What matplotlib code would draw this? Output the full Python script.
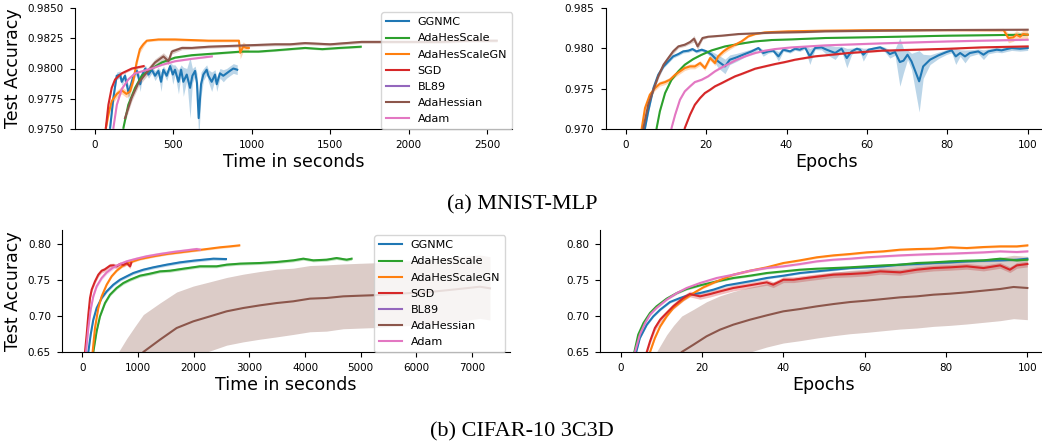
import numpy as np
import matplotlib.pyplot as plt
from matplotlib.ticker import MultipleLocator, FormatStrFormatter

methods = ['GGNMC', 'AdaHesScale', 'AdaHesScaleGN', 'SGD', 'BL89', 'AdaHessian', 'Adam']
colors = ['tab:blue', 'tab:green', 'tab:orange', 'tab:red', 'tab:purple', 'tab:brown', 'tab:pink']

# ---------------- MNIST-MLP, accuracy vs wall-clock time ----------------
mt_ggnmc_x = [96, 117, 138, 160, 170, 191, 202, 213, 223, 245, 267, 288, 298, 320, 341, 362, 383, 404,
              421, 436, 457, 479, 496, 510, 532, 549, 563, 585, 606, 621, 638, 650, 661, 676, 691, 712,
              723, 744, 765, 776, 797, 818, 839, 860, 882, 907]
mt_ggnmc_y = [0.9751, 0.9776, 0.9794, 0.9795, 0.9789, 0.9794, 0.9787, 0.9780, 0.9784, 0.9794, 0.9798,
              0.9787, 0.9794, 0.9800, 0.9795, 0.9799, 0.9794, 0.9798, 0.9789, 0.9799, 0.9794, 0.9802,
              0.9795, 0.9799, 0.9789, 0.9799, 0.9789, 0.9795, 0.9784, 0.9794, 0.9798, 0.9788, 0.9759,
              0.9787, 0.9795, 0.9799, 0.9794, 0.9789, 0.9795, 0.9787, 0.9796, 0.9794, 0.9796, 0.9798,
              0.9800, 0.9799]
mt_ggnmc_sd = [0.0003, 0.0003, 0.0003, 0.0003, 0.0003, 0.0003, 0.0004, 0.0006, 0.0004, 0.0003, 0.0003,
               0.0006, 0.0003, 0.0003, 0.0003, 0.0003, 0.0004, 0.0003, 0.0008, 0.0003, 0.0004, 0.0003,
               0.0008, 0.0004, 0.0010, 0.0004, 0.0012, 0.0005, 0.0025, 0.0006, 0.0004, 0.0008, 0.0018,
               0.0010, 0.0005, 0.0004, 0.0005, 0.0008, 0.0004, 0.0006, 0.0004, 0.0005, 0.0004, 0.0004,
               0.0004, 0.0004]
mt_ahs_x = [181, 212, 255, 298, 362, 426, 510, 617, 723, 830, 936, 1043, 1149, 1244, 1340, 1450, 1560, 1695]
mt_ahs_y = [0.9751, 0.9770, 0.9784, 0.9794, 0.9800, 0.9805, 0.9809, 0.9811, 0.9812, 0.9813, 0.9814,
            0.9814, 0.9815, 0.9816, 0.9817, 0.9816, 0.9817, 0.9818]
mt_ahs_sd = 0.00008
mt_ahsgn_x = [69, 85, 106, 139, 170, 200, 223, 244, 265, 286, 308, 330, 404, 510, 722, 918, 926, 945,
              966, 981]
mt_ahsgn_y = [0.9751, 0.9762, 0.9773, 0.9779, 0.9782, 0.9779, 0.9781, 0.9790, 0.9805, 0.9816, 0.9820,
              0.9823, 0.9824, 0.9824, 0.9823, 0.9823, 0.9813, 0.9818, 0.9817, 0.9817]
mt_ahsgn_sd = [0.0003, 0.0003, 0.0003, 0.0003, 0.0003, 0.0003, 0.0003, 0.0003, 0.0003, 0.0003, 0.0002,
               0.0001, 0.0001, 0.0001, 0.0001, 0.0001, 0.0005, 0.0004, 0.0003, 0.0003]
mt_sgd_x = [69, 85, 106, 128, 170, 235, 310]
mt_sgd_y = [0.9751, 0.9770, 0.9784, 0.9791, 0.9796, 0.9800, 0.9802]
mt_sgd_sd = 0.0001
mt_bl89_x = []
mt_bl89_y = []
mt_adahessian_x = [191, 234, 276, 319, 383, 436, 468, 490, 554, 617, 723, 936, 1149, 1244, 1340, 1500,
                   1700, 1883, 2200, 2400, 2563]
mt_adahessian_y = [0.9759, 0.9776, 0.9788, 0.9795, 0.9805, 0.9810, 0.9806, 0.9814, 0.9817, 0.9817,
                   0.9818, 0.9819, 0.9820, 0.9820, 0.9821, 0.9820, 0.9822, 0.9822, 0.9822, 0.9823, 0.9823]
mt_adahessian_sd = [0.0003, 0.0003, 0.0003, 0.0003, 0.0003, 0.0003, 0.0003, 0.0002, 0.00015, 0.00012,
                    0.00012, 0.00012, 0.00012, 0.00012, 0.00012, 0.00012, 0.00012, 0.00012, 0.00012,
                    0.00012, 0.00012]
mt_adam_x = [117, 139, 170, 212, 255, 362, 426, 510, 617, 745]
mt_adam_y = [0.9751, 0.9770, 0.9783, 0.9791, 0.9796, 0.9800, 0.9803, 0.9806, 0.9808, 0.9810]
mt_adam_sd = 0.00006

# ---------------- MNIST-MLP, accuracy vs epochs ----------------
me_ggnmc_x = [4.8, 5.6, 6.9, 8.1, 9.4, 10.6, 11.8, 13.1, 14.3, 15.6, 16.6, 17.6, 18.9, 20.1, 21.4, 23.0,
              24.7, 25.9, 27.6, 29.2, 31.3, 33.0, 34.2, 35.5, 36.7, 38.0, 39.2, 40.9, 42.1, 43.3, 44.6,
              45.8, 47.1, 48.7, 50.0, 52.1, 53.7, 55.0, 56.2, 57.5, 58.3, 59.1, 60.4, 62.4, 63.3, 64.5,
              65.7, 67.0, 68.2, 69.1, 70.1, 71.1, 73.0, 74.0, 75.7, 77.8, 79.8, 81.1, 82.1, 83.2, 84.4,
              85.6, 87.7, 89.0, 90.2, 92.3, 93.5, 94.8, 96.0, 98.1, 100.0]
me_ggnmc_y = [0.97012, 0.97219, 0.97508, 0.97673, 0.97776, 0.97838, 0.97900, 0.97929, 0.97962, 0.97971,
              0.97991, 0.97962, 0.97983, 0.97962, 0.97921, 0.97838, 0.97776, 0.97859, 0.97888, 0.97921,
              0.97962, 0.98004, 0.97942, 0.97962, 0.97971, 0.97900, 0.97983, 0.97962, 0.97995, 0.97983,
              0.98012, 0.97900, 0.98004, 0.98012, 0.97983, 0.97942, 0.97995, 0.97880, 0.97962, 0.97995,
              0.97983, 0.97921, 0.97983, 0.98004, 0.98012, 0.97983, 0.97929, 0.97954, 0.97830, 0.97847,
              0.97921, 0.97838, 0.97591, 0.97776, 0.97859, 0.97913, 0.97954, 0.97975, 0.97900, 0.97942,
              0.97900, 0.97942, 0.97962, 0.97921, 0.97962, 0.97983, 0.97975, 0.97991, 0.98004, 0.97995,
              0.98004]
me_ggnmc_sd = [0.0003, 0.0003, 0.0003, 0.0003, 0.0002, 0.0002, 0.0002, 0.0002, 0.0002, 0.0002, 0.0002,
               0.0002, 0.0002, 0.0002, 0.0004, 0.0008, 0.0009, 0.0006, 0.0005, 0.0004, 0.0003, 0.0002,
               0.0004, 0.0002, 0.0002, 0.0006, 0.0002, 0.0002, 0.0002, 0.0002, 0.0002, 0.0010, 0.0002,
               0.0003, 0.0006, 0.0008, 0.0003, 0.0012, 0.0004, 0.0002, 0.0003, 0.0008, 0.0002, 0.0002,
               0.0002, 0.0003, 0.0005, 0.0004, 0.0030, 0.0015, 0.0006, 0.0010, 0.0038, 0.0015, 0.0006,
               0.0004, 0.0003, 0.0003, 0.0010, 0.0004, 0.0008, 0.0004, 0.0003, 0.0006, 0.0003, 0.0003,
               0.0003, 0.0003, 0.0003, 0.0003, 0.0003]
me_ahs_x = [7.7, 8.5, 9.8, 11.4, 13.1, 14.7, 16.8, 18.9, 21.4, 24.7, 28.0, 32.2, 36.3, 41.3, 49.6, 63.7,
            80.3, 100.0]
me_ahs_y = [0.97012, 0.97219, 0.97446, 0.97611, 0.97715, 0.97797, 0.97867, 0.97921, 0.97975, 0.98024,
            0.98053, 0.98086, 0.98103, 0.98111, 0.98128, 0.98140, 0.98157, 0.98169]
me_ahs_sd = 0.00006
me_ahsgn_x = [4.0, 4.8, 6.0, 7.3, 8.5, 9.8, 11.0, 12.3, 13.5, 14.7, 16.0, 17.2, 18.5, 19.7, 21.0, 22.2,
              23.0, 24.3, 25.5, 27.2, 28.8, 30.5, 32.2, 34.6, 40.4, 49.6, 60.0, 75.0, 94.0, 95.2, 96.4,
              97.2, 98.1, 98.9, 100.0]
me_ahsgn_y = [0.97012, 0.97260, 0.97425, 0.97508, 0.97562, 0.97582, 0.97611, 0.97673, 0.97715, 0.97756,
              0.97776, 0.97776, 0.97818, 0.97756, 0.97880, 0.97818, 0.97901, 0.97962, 0.98004, 0.98045,
              0.98086, 0.98148, 0.98177, 0.98198, 0.98211, 0.98219, 0.98225, 0.98227, 0.98227, 0.98128,
              0.98136, 0.98169, 0.98144, 0.98177, 0.98169]
me_ahsgn_sd = [0.0003, 0.0003, 0.0003, 0.0003, 0.0003, 0.0003, 0.0003, 0.0003, 0.0003, 0.0003, 0.0003,
               0.0003, 0.0003, 0.0003, 0.0003, 0.0003, 0.0003, 0.0003, 0.0003, 0.0002, 0.0002, 0.0001,
               0.0001, 0.0001, 0.0001, 0.0001, 0.0001, 0.0001, 0.0002, 0.0006, 0.0005, 0.0005, 0.0005,
               0.0005, 0.0005]
me_sgd_x = [14.7, 16.0, 17.2, 18.5, 19.7, 21.0, 22.2, 23.9, 25.5, 27.2, 28.8, 30.5, 32.2, 34.6, 37.1,
            39.6, 42.1, 44.6, 47.1, 49.6, 55.4, 63.7, 72.0, 80.3, 88.5, 100.0]
me_sgd_y = [0.97012, 0.97177, 0.97301, 0.97384, 0.97446, 0.97487, 0.97529, 0.97570, 0.97611, 0.97653,
            0.97682, 0.97715, 0.97748, 0.97776, 0.97805, 0.97830, 0.97859, 0.97880, 0.97901, 0.97913,
            0.97942, 0.97971, 0.97983, 0.97995, 0.98012, 0.98024]
me_sgd_sd = 0.0001
me_bl89_x = []
me_bl89_y = []
me_adahessian_x = [4.4, 5.6, 6.9, 8.1, 9.4, 10.6, 11.8, 13.1, 14.7, 16.0, 17.0, 17.9, 19.1, 20.5, 23.9,
                   28.0, 36.3, 44.6, 49.6, 63.7, 80.3, 100.0]
me_adahessian_y = [0.97012, 0.97301, 0.97487, 0.97652, 0.97797, 0.97880, 0.97962, 0.98024, 0.98045,
                   0.98078, 0.98119, 0.98024, 0.98128, 0.98144, 0.98157, 0.98177, 0.98194, 0.98202,
                   0.98211, 0.98219, 0.98227, 0.98231]
me_adahessian_sd = [0.0003, 0.0003, 0.0003, 0.0003, 0.0003, 0.0003, 0.0003, 0.0002, 0.0002, 0.0002,
                    0.0004, 0.0004, 0.0002, 0.0001, 0.0001, 0.0001, 0.0001, 0.0001, 0.0001, 0.0001,
                    0.0001, 0.0001]
me_adam_x = [11.4, 12.3, 13.5, 14.7, 16.0, 17.2, 18.9, 20.5, 22.2, 23.9, 25.5, 27.6, 29.7, 32.2, 34.6,
             37.1, 41.3, 45.4, 49.6, 63.7, 80.3, 100.0]
me_adam_y = [0.97012, 0.97177, 0.97363, 0.97467, 0.97529, 0.97582, 0.97611, 0.97653, 0.97715, 0.97764,
             0.97805, 0.97859, 0.97901, 0.97942, 0.97971, 0.97991, 0.98012, 0.98024, 0.98037, 0.98062,
             0.98086, 0.98107]
me_adam_sd = 0.0001

# ---------------- CIFAR-10 3C3D, accuracy vs wall-clock time ----------------
ct_ggnmc_x = [109, 151, 198, 258, 348, 438, 557, 677, 797, 916, 1096, 1276, 1515, 1754, 1994, 2173,
              2353, 2580]
ct_ggnmc_y = [0.650, 0.6741, 0.6949, 0.7111, 0.7250, 0.7342, 0.7435, 0.7504, 0.7551, 0.7597, 0.7643,
              0.7676, 0.7713, 0.7745, 0.7768, 0.7782, 0.7796, 0.7791]
ct_ggnmc_sd = 0.002
ct_ahs_x = [198, 258, 318, 408, 498, 617, 737, 857, 1036, 1216, 1395, 1575, 1814, 2113, 2412, 2592,
            2831, 3190, 3490, 3789, 3968, 4148, 4387, 4567, 4746, 4836]
ct_ahs_y = [0.650, 0.6787, 0.6995, 0.7180, 0.7296, 0.7389, 0.7458, 0.7504, 0.7560, 0.7588, 0.7620,
            0.7629, 0.7657, 0.7690, 0.7690, 0.7713, 0.7727, 0.7736, 0.7750, 0.7773, 0.7796, 0.7773,
            0.7782, 0.7805, 0.7782, 0.7796]
ct_ahs_sd = 0.002
ct_ahsgn_x = [186, 228, 288, 348, 438, 527, 617, 737, 857, 1036, 1276, 1515, 1754, 1994, 2233, 2472,
              2652, 2819]
ct_ahsgn_y = [0.650, 0.6833, 0.7111, 0.7273, 0.7435, 0.7551, 0.7629, 0.7703, 0.7745, 0.7791, 0.7829,
              0.7861, 0.7884, 0.7907, 0.7930, 0.7954, 0.7967, 0.7981]
ct_ahsgn_sd = 0.0015
ct_sgd_x = [49, 79, 109, 139, 169, 228, 288, 348, 400, 438, 500, 557, 620, 677, 740, 797, 857, 880]
ct_sgd_y = [0.650, 0.6741, 0.7018, 0.7250, 0.7366, 0.7481, 0.7574, 0.7629, 0.7645, 0.7666, 0.7700,
            0.7703, 0.7690, 0.7722, 0.7710, 0.7736, 0.7690, 0.7736]
ct_sgd_sd = 0.003
ct_bl89_x = []
ct_bl89_y = []
ct_adahessian_x = [500, 650, 800, 950, 1096, 1395, 1694, 1994, 2293, 2592, 2891, 3190, 3490, 3789, 4088,
                   4387, 4686, 4986, 5285, 5700, 6297, 6700, 7140, 7320]
ct_adahessian_y = [0.570, 0.595, 0.615, 0.633, 0.650, 0.6671, 0.6833, 0.6926, 0.6995, 0.7065, 0.7111,
                   0.7148, 0.7180, 0.7204, 0.7241, 0.7250, 0.7273, 0.7282, 0.7290, 0.7310, 0.7338,
                   0.7370, 0.7407, 0.7384]
ct_adahessian_sd = [0.058, 0.055, 0.054, 0.053, 0.052, 0.051, 0.050, 0.049, 0.048, 0.047, 0.047, 0.047,
                    0.047, 0.046, 0.046, 0.046, 0.045, 0.045, 0.045, 0.045, 0.045, 0.045, 0.044, 0.044]
ct_adam_x = [67, 109, 151, 198, 258, 348, 438, 557, 677, 797, 976, 1156, 1395, 1635, 1874, 2053, 2113]
ct_adam_y = [0.650, 0.6833, 0.7088, 0.7273, 0.7412, 0.7528, 0.7606, 0.7676, 0.7722, 0.7759, 0.7796,
             0.7829, 0.7861, 0.7889, 0.7912, 0.7930, 0.7921]
ct_adam_sd = 0.0025

# ---------------- CIFAR-10 3C3D, accuracy vs epochs ----------------
ce_ggnmc_x = [3.8, 4.7, 6.4, 8.0, 9.7, 12.1, 14.6, 17.0, 19.5, 22.8, 26.0, 29.3, 32.6, 35.9, 40.0, 44.1,
              48.2, 52.3, 56.4, 60.5, 64.6, 68.7, 72.8, 76.9, 81.0, 85.1, 89.2, 93.3, 97.4, 100.0]
ce_ggnmc_y = [0.650, 0.6694, 0.6879, 0.6995, 0.7088, 0.7194, 0.7250, 0.7296, 0.7319, 0.7366, 0.7426,
              0.7458, 0.7491, 0.7528, 0.7560, 0.7597, 0.7620, 0.7643, 0.7666, 0.7676, 0.7690, 0.7713,
              0.7722, 0.7736, 0.7745, 0.7759, 0.7768, 0.7773, 0.7782, 0.7796]
ce_ggnmc_sd = 0.0015
ce_ahs_x = [3.35, 4.3, 5.6, 7.2, 8.8, 11.3, 13.8, 16.2, 19.5, 23.6, 27.7, 31.8, 35.9, 40.0, 44.1, 48.2,
            52.3, 56.4, 60.5, 64.6, 68.7, 72.8, 76.9, 81.0, 85.1, 89.2, 93.3, 97.4, 100.0]
ce_ahs_y = [0.650, 0.6741, 0.6903, 0.7042, 0.7134, 0.7241, 0.7319, 0.7375, 0.7426, 0.7481, 0.7528,
            0.7560, 0.7597, 0.7620, 0.7643, 0.7657, 0.7666, 0.7676, 0.7690, 0.7703, 0.7713, 0.7736,
            0.7745, 0.7759, 0.7768, 0.7773, 0.7796, 0.7773, 0.7782]
ce_ahs_sd = 0.0015
ce_ahsgn_x = [7.2, 8.4, 9.7, 11.3, 12.9, 15.4, 17.9, 20.3, 23.6, 27.7, 31.8, 35.9, 40.0, 44.1, 48.2,
              52.3, 56.4, 60.5, 64.6, 68.7, 72.8, 76.9, 81.0, 85.1, 89.2, 93.3, 97.4, 100.0]
ce_ahsgn_y = [0.650, 0.6694, 0.6856, 0.6995, 0.7111, 0.7227, 0.7319, 0.7398, 0.7481, 0.7574, 0.7629,
              0.7676, 0.7736, 0.7773, 0.7815, 0.7842, 0.7861, 0.7884, 0.7898, 0.7921, 0.7930, 0.7935,
              0.7954, 0.7944, 0.7958, 0.7967, 0.7967, 0.7981]
ce_ahsgn_sd = 0.0015
ce_sgd_x = [6.4, 7.2, 8.4, 9.7, 11.3, 12.9, 15.4, 17.0, 19.5, 22.0, 24.4, 27.7, 30.2, 32.6, 35.9, 37.5,
            40.0, 42.5, 45.7, 49.0, 52.3, 56.4, 60.5, 63.8, 68.7, 72.8, 76.9, 81.0, 85.1, 89.2, 93.3,
            95.7, 97.4, 100.0]
ce_sgd_y = [0.650, 0.6648, 0.6833, 0.6949, 0.7042, 0.7134, 0.7250, 0.7305, 0.7273, 0.7305, 0.7342,
            0.7389, 0.7412, 0.7435, 0.7467, 0.7435, 0.7504, 0.7504, 0.7528, 0.7551, 0.7574, 0.7583,
            0.7597, 0.7620, 0.7606, 0.7643, 0.7666, 0.7676, 0.7690, 0.7666, 0.7703, 0.7643, 0.7703,
            0.7722]
ce_sgd_sd = 0.004
ce_bl89_x = []
ce_bl89_y = []
ce_adahessian_x = [6.0, 8.8, 11.3, 13.0, 15.0, 17.9, 21.1, 24.4, 27.7, 31.8, 35.9, 40.0, 44.1, 48.2, 52.3,
                   56.4, 60.5, 64.6, 68.7, 72.8, 76.9, 81.0, 85.1, 89.2, 93.3, 96.6, 100.0]
ce_adahessian_y = [0.575, 0.600, 0.624, 0.637, 0.650, 0.6602, 0.6718, 0.6810, 0.6880, 0.6949, 0.7009,
                   0.7065, 0.7097, 0.7134, 0.7166, 0.7194, 0.7213, 0.7236, 0.7259, 0.7273, 0.7296,
                   0.7310, 0.7329, 0.7352, 0.7375, 0.7403, 0.7389]
ce_adahessian_sd = [0.052, 0.050, 0.050, 0.050, 0.050, 0.049, 0.048, 0.047, 0.046, 0.045, 0.044, 0.044,
                    0.044, 0.044, 0.044, 0.044, 0.044, 0.044, 0.044, 0.044, 0.044, 0.044, 0.044, 0.044,
                    0.044, 0.044, 0.044]
ce_adam_x = [3.5, 4.7, 6.0, 7.2, 8.8, 11.3, 13.8, 16.2, 19.5, 23.6, 27.7, 31.8, 35.9, 40.0, 44.1, 48.2,
             52.3, 56.4, 60.5, 64.6, 68.7, 72.8, 76.9, 81.0, 85.1, 89.2, 93.3, 97.4, 100.0]
ce_adam_y = [0.650, 0.6741, 0.6903, 0.7018, 0.7111, 0.7227, 0.7319, 0.7389, 0.7458, 0.7528, 0.7574,
             0.7629, 0.7666, 0.7690, 0.7722, 0.7759, 0.7782, 0.7796, 0.7815, 0.7829, 0.7842, 0.7852,
             0.7861, 0.7866, 0.7875, 0.7884, 0.7898, 0.7889, 0.7898]
ce_adam_sd = 0.0015


def runs(prefix):
    g = globals()
    keys = ['ggnmc', 'ahs', 'ahsgn', 'sgd', 'bl89', 'adahessian', 'adam']
    return [(g[prefix + k + '_x'], g[prefix + k + '_y'], g.get(prefix + k + '_sd', 0.0)) for k in keys]


def draw_panel(ax, series):
    for (x, y, sd), label, c in zip(series, methods, colors):
        x = np.asarray(x, dtype=float)
        y = np.asarray(y, dtype=float)
        if len(x):
            sd = np.asarray(sd, dtype=float)
            ax.fill_between(x, y - sd, y + sd, color=c, alpha=0.3, lw=0)
        ax.plot(x, y, color=c, lw=1.5, label=label)
    ax.spines['top'].set_visible(False)
    ax.spines['right'].set_visible(False)
    ax.tick_params(labelsize=7.5, pad=4.5)


def add_legend(ax, x_anchor):
    ax.legend(loc='lower right', bbox_to_anchor=(x_anchor, 0.0), borderaxespad=0,
              fontsize=8, labelspacing=0.55, borderpad=0.45, handlelength=2.0)


fig = plt.figure(figsize=(10.42, 4.43), dpi=100)
W, H = 1042.0, 443.0

ax1 = fig.add_axes([75 / W, 1 - 129 / H, 437 / W, 121 / H])
draw_panel(ax1, runs('mt_'))
ax1.set_xlim(-128, 2660)
ax1.set_ylim(0.975, 0.985)
ax1.xaxis.set_major_locator(MultipleLocator(500))
ax1.yaxis.set_major_locator(MultipleLocator(0.0025))
ax1.yaxis.set_major_formatter(FormatStrFormatter('%.4f'))
ax1.set_xlabel('Time in seconds', fontsize=12.5, labelpad=2)
ax1.set_ylabel('Test Accuracy', fontsize=12.5, labelpad=4)
add_legend(ax1, 1.0)

ax2 = fig.add_axes([605.6 / W, 1 - 129 / H, 442.2 / W, 121 / H])
draw_panel(ax2, runs('me_'))
ax2.set_xlim(-5, 105)
ax2.set_ylim(0.970, 0.985)
ax2.xaxis.set_major_locator(MultipleLocator(20))
ax2.yaxis.set_major_locator(MultipleLocator(0.005))
ax2.yaxis.set_major_formatter(FormatStrFormatter('%.3f'))
ax2.set_xlabel('Epochs', fontsize=12.5, labelpad=2)

ax3 = fig.add_axes([62 / W, 1 - 352 / H, 448 / W, 122.4 / H])
draw_panel(ax3, runs('ct_'))
ax3.set_xlim(-364, 7680)
ax3.set_ylim(0.65, 0.82)
ax3.xaxis.set_major_locator(MultipleLocator(1000))
ax3.yaxis.set_major_locator(MultipleLocator(0.05))
ax3.yaxis.set_major_formatter(FormatStrFormatter('%.2f'))
ax3.set_xlabel('Time in seconds', fontsize=12.5, labelpad=2)
ax3.set_ylabel('Test Accuracy', fontsize=12.5, labelpad=4)
add_legend(ax3, 0.989)

ax4 = fig.add_axes([600.4 / W, 1 - 352 / H, 447.3 / W, 122.4 / H])
draw_panel(ax4, runs('ce_'))
ax4.set_xlim(-5, 105)
ax4.set_ylim(0.65, 0.82)
ax4.xaxis.set_major_locator(MultipleLocator(20))
ax4.yaxis.set_major_locator(MultipleLocator(0.05))
ax4.yaxis.set_major_formatter(FormatStrFormatter('%.2f'))
ax4.set_xlabel('Epochs', fontsize=12.5, labelpad=2)

fig.text(522 / W, 1 - 205 / H, '(a) MNIST-MLP', ha='center', va='center',
         family='Liberation Serif', fontsize=16)
fig.text(522 / W, 1 - 432 / H, '(b) CIFAR-10 3C3D', ha='center', va='center',
         family='Liberation Serif', fontsize=16)

fig.savefig('out.png', dpi=100)
